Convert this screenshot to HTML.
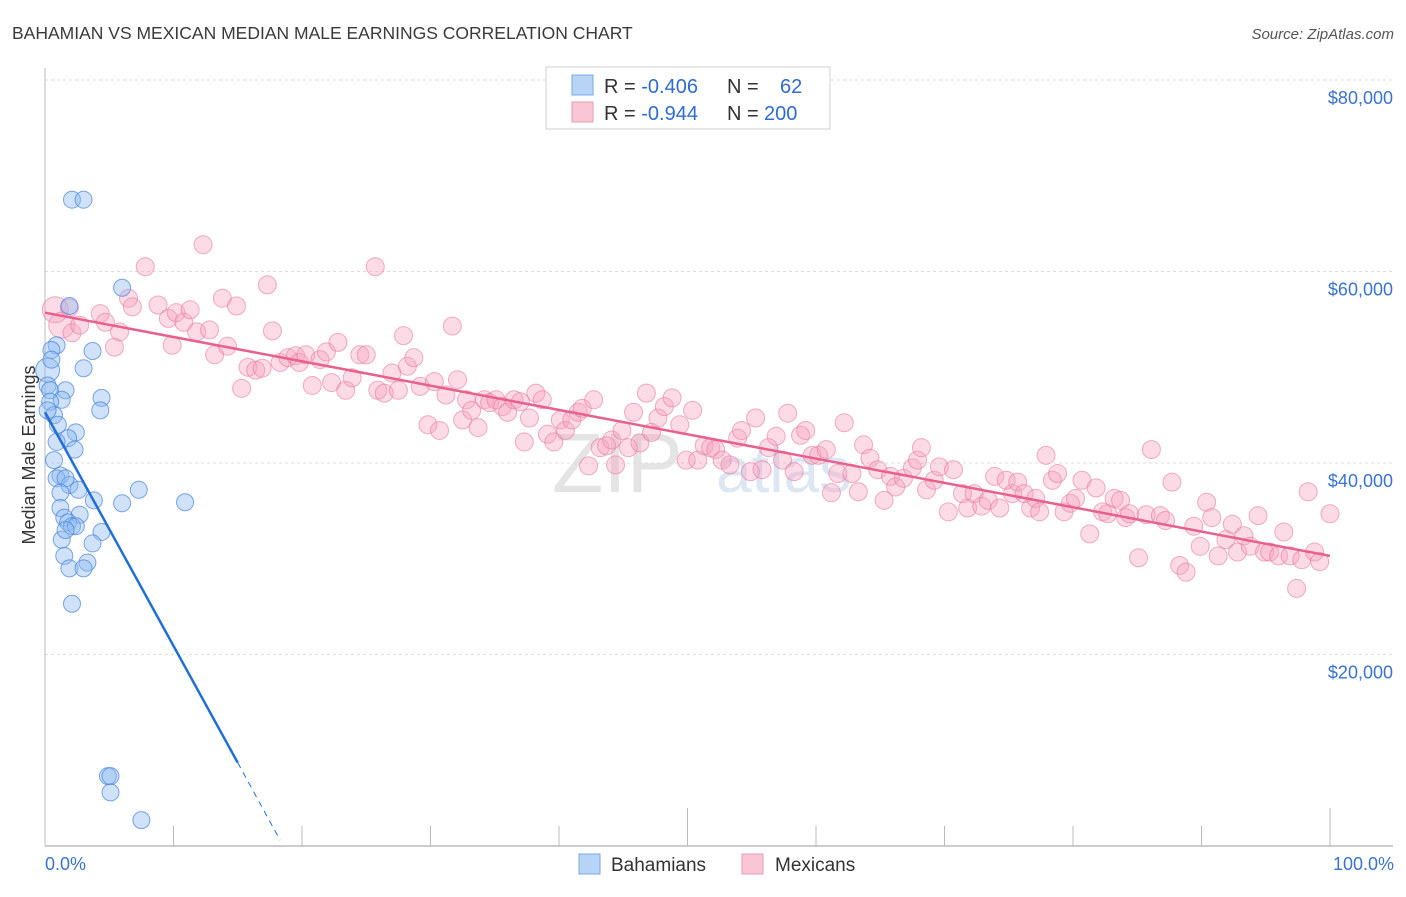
<!DOCTYPE html>
<html><head><meta charset="utf-8"><style>
body{margin:0;background:#fff;font-family:"Liberation Sans",sans-serif;}
svg text{font-family:"Liberation Sans",sans-serif;}
</style></head><body>
<svg id="chart" width="1406" height="892" viewBox="0 0 1406 892" xmlns="http://www.w3.org/2000/svg">
<text x="12" y="39" font-size="17.5" fill="#3a3a3a">BAHAMIAN VS MEXICAN MEDIAN MALE EARNINGS CORRELATION CHART</text>
<text x="1394" y="39" font-size="15" fill="#555" text-anchor="end" font-style="italic">Source: ZipAtlas.com</text>
<text x="552" y="492" font-size="84" fill="#e4e4e4" font-family="Liberation Serif">ZIP</text>
<text x="716" y="492" font-size="64" fill="#dde6f3">atlas</text>
<g id="grid"></g>
<g id="axes"></g>
<g id="pts"></g>
<g id="trends"></g>
<text transform="translate(35,455) rotate(-90)" font-size="18" fill="#333" text-anchor="middle">Median Male Earnings</text>
<text x="45" y="870" font-size="18" fill="#3a73d0">0.0%</text>
<text x="1394" y="870" font-size="18" fill="#3a73d0" text-anchor="end">100.0%</text>
<g>
<rect x="546" y="67" width="284" height="62" fill="#fff" stroke="#d0d0d0"/>
<rect x="572" y="75" width="21" height="20" fill="#b7d3f5" stroke="#7aaae6"/>
<rect x="572" y="102" width="21" height="20" fill="#f9c6d6" stroke="#ee9ab4"/>
<text x="604" y="93" font-size="20" fill="#333">R = <tspan fill="#2f6bd0">-0.406</tspan><tspan x="727">N = </tspan><tspan x="780" fill="#2f6bd0">62</tspan></text>
<text x="604" y="120" font-size="20" fill="#333">R = <tspan fill="#2f6bd0">-0.944</tspan><tspan x="727">N = </tspan><tspan x="764" fill="#2f6bd0">200</tspan></text>
</g>
<g>
<rect x="579" y="854" width="21" height="20" fill="#b7d3f5" stroke="#7aaae6"/>
<text x="611" y="871" font-size="19" fill="#333">Bahamians</text>
<rect x="742" y="854" width="21" height="20" fill="#f9c6d6" stroke="#ee9ab4"/>
<text x="775" y="871" font-size="19" fill="#333">Mexicans</text>
</g>
</svg>
<script>
const yTicks=[20000,40000,60000,80000];
const yTickLabels=["$20,000","$40,000","$60,000","$80,000"];
const xTicks=[0,10,20,30,40,50,60,70,80,90,100];
const blueX=[2.1,3.0,6.0,1.9,3.7,0.9,0.5,0.2,3.0,0.2,0.4,1.6,1.3,0.4,4.4,4.3,0.7,2.4,1.8,0.9,2.3,0.7,1.2,0.9,1.9,1.6,2.6,1.2,3.8,6.0,7.3,10.9,1.2,2.7,1.5,1.8,2.1,2.4,4.4,1.3,3.7,1.5,3.3,1.9,3.0,2.1,4.9,5.1,5.1,7.5,0.5,0.2,1.0,1.6];
const blueY=[67.5,67.5,58.3,56.4,51.7,52.3,51.8,49.7,49.9,48.1,47.6,47.6,46.6,46.4,46.8,45.5,45.0,43.2,42.6,42.2,41.4,40.3,38.7,38.4,37.7,38.4,37.2,36.9,36.1,35.8,37.2,35.9,35.3,34.6,34.3,33.8,33.4,33.4,32.8,32.0,31.6,30.3,29.6,29.0,29.0,25.3,7.3,7.3,5.6,2.7,50.8,45.5,44.0,33.0];
const pinkX=[0.8,1.3,2.1,2.7,1.9,4.3,4.7,5.4,5.8,6.5,7.8,6.8,8.8,9.6,9.9,10.2,10.8,11.3,11.8,12.3,12.8,13.2,13.8,14.2,14.9,15.3,15.8,16.4,16.9,17.3,17.7,18.3,18.9,19.5,19.8,20.3,20.8,21.4,21.9,22.3,22.8,23.4,23.9,24.5,25.0,25.7,25.9,26.4,27.0,27.5,27.9,28.2,28.7,29.2,29.8,30.3,30.7,31.2,31.7,32.1,32.5,32.8,33.2,33.7,34.2,34.6,35.1,35.6,36.0,36.5,37.0,37.3,37.7,38.2,38.7,39.1,39.6,40.1,40.5,41.0,41.5,41.8,42.3,42.7,43.2,43.7,44.1,44.4,44.9,45.4,45.8,46.3,46.8,47.2,47.7,48.2,48.8,49.4,49.9,50.4,50.8,51.3,51.8,52.2,52.7,53.3,53.9,54.2,54.9,55.3,55.8,56.3,56.9,57.4,57.8,58.3,58.8,59.2,59.7,60.2,60.8,61.2,61.7,62.2,62.8,63.3,63.7,64.2,64.8,65.3,65.8,66.2,66.8,67.5,67.9,68.2,68.6,69.2,69.6,70.3,70.7,71.4,71.8,72.3,72.9,73.4,73.9,74.3,74.8,75.3,75.7,76.2,76.7,77.1,77.4,77.9,78.4,78.8,79.3,79.8,80.2,80.7,81.3,81.8,82.3,82.7,83.2,83.7,84.1,84.4,85.1,85.7,86.1,86.8,87.2,87.7,88.3,88.8,89.4,89.9,90.4,90.8,91.3,91.9,92.4,92.8,93.3,93.8,94.4,94.9,95.3,96.0,96.4,96.9,97.4,97.8,98.3,98.8,99.2,100];
const pinkY=[56.0,54.4,53.6,54.4,56.2,55.6,54.7,52.1,53.7,57.2,60.5,56.3,56.5,55.1,52.3,55.7,54.7,56.0,53.7,62.8,53.9,51.3,57.2,52.2,56.4,47.8,50.0,49.7,49.9,58.6,53.8,50.5,51.0,51.2,50.5,51.3,48.1,50.8,51.6,48.4,52.6,47.6,48.9,51.3,51.3,60.5,47.6,47.3,49.4,47.6,53.3,50.1,51.0,48.0,44.0,48.5,43.4,47.1,54.3,48.7,44.5,46.6,45.5,43.7,46.6,46.3,46.6,45.9,45.3,46.6,46.4,42.2,44.7,47.3,46.6,43.0,42.2,44.5,43.4,44.5,45.3,45.7,39.7,46.6,41.6,41.8,42.4,39.8,43.4,41.6,45.3,42.1,47.3,43.2,44.7,45.9,46.8,44.0,40.3,45.5,40.3,41.8,41.6,41.4,40.3,39.8,42.6,43.4,39.1,44.7,39.3,41.6,42.8,40.3,45.2,39.1,42.9,43.4,40.8,40.8,41.4,36.9,38.9,44.2,38.9,37.0,41.9,40.5,39.3,36.1,38.6,37.5,38.4,39.5,40.3,41.6,37.2,38.2,39.6,34.9,39.3,36.8,35.3,36.8,35.5,36.1,38.6,35.3,38.2,36.8,38.0,36.8,35.3,36.3,34.9,40.8,38.2,38.9,34.9,35.8,36.3,38.2,32.6,37.4,34.9,34.7,36.3,36.1,34.3,34.7,30.1,34.6,41.4,34.5,34.0,38.0,29.3,28.6,33.4,31.3,35.9,34.3,30.3,32.0,33.6,30.7,32.4,31.3,34.5,30.7,30.7,30.3,32.8,30.3,26.9,29.9,37.0,30.7,29.7,34.7];
const blueTrendX=[0,15,18.3];
const blueTrendY=[45.3,8.7,0.6];
const pinkTrendX=[0,100];
const pinkTrendY=[55.7,30.3];
const NS="http://www.w3.org/2000/svg";
const X0=45,X1=1330,Y0=846,YPER=191.5/20000;
function sx(p){return X0+(X1-X0)*p/100;}
function sy(v){return Y0-v*YPER;}
function mk(tag,attrs,parent){const e=document.createElementNS(NS,tag);for(const k in attrs)e.setAttribute(k,attrs[k]);parent.appendChild(e);return e;}
const grid=document.getElementById('grid'),axes=document.getElementById('axes'),pts=document.getElementById('pts'),tr=document.getElementById('trends');
yTicks.forEach((t,i)=>{
 const l=mk('line',{x1:45,x2:1393,y1:sy(t),y2:sy(t),stroke:'#dcdcdc','stroke-dasharray':'3,3'},grid);
 
 
 const tx=mk('text',{x:1393,y:sy(t)+24,'font-size':18,fill:'#3a73d0','text-anchor':'end'},grid);
 tx.textContent=yTickLabels[i];
 
 
});
const gTop=mk('line',{x1:45,x2:1393,y1:sy(80000),y2:sy(80000),stroke:'#dcdcdc','stroke-dasharray':'3,3'},grid);
const ya=mk('line',{x1:45,x2:45,y1:68,y2:846,stroke:'#bbb'},axes);


const xa=mk('line',{x1:45,x2:1393,y1:846,y2:846,stroke:'#bbb','stroke-width':1.5},axes);


xTicks.forEach(t=>{
 const tall=(t===50||t===100);
 const tk=mk('line',{x1:sx(t),x2:sx(t),y1:tall?808:826,y2:846,stroke:'#bbb'},axes);
 
 
});
pinkX.forEach((x,i)=>{
 const c=mk('circle',{cx:sx(x),cy:sy(pinkY[i]*1000),r:i<2?13:9,fill:'rgba(246,160,188,0.38)',stroke:'rgba(232,120,158,0.6)','stroke-width':1},pts);
 
 
});
blueX.forEach((x,i)=>{
 const c=mk('circle',{cx:sx(x),cy:sy(blueY[i]*1000),r:i===7?12:8.5,fill:'rgba(140,185,240,0.42)',stroke:'rgba(70,130,220,0.7)','stroke-width':1},pts);
 
 
});
const pl=mk('line',{x1:sx(pinkTrendX[0]),y1:sy(pinkTrendY[0]*1000),x2:sx(pinkTrendX[1]),y2:sy(pinkTrendY[1]*1000),stroke:'#e8608c','stroke-width':2.5},tr);


const bl=mk('line',{x1:sx(blueTrendX[0]),y1:sy(blueTrendY[0]*1000),x2:sx(blueTrendX[1]),y2:sy(blueTrendY[1]*1000),stroke:'#1f6fd6','stroke-width':2.5},tr);


const bd=mk('line',{x1:sx(blueTrendX[1]),y1:sy(blueTrendY[1]*1000),x2:sx(blueTrendX[2]),y2:sy(blueTrendY[2]*1000),stroke:'#1f6fd6','stroke-width':1,'stroke-dasharray':'6,5'},tr);


</script>
</body></html>
